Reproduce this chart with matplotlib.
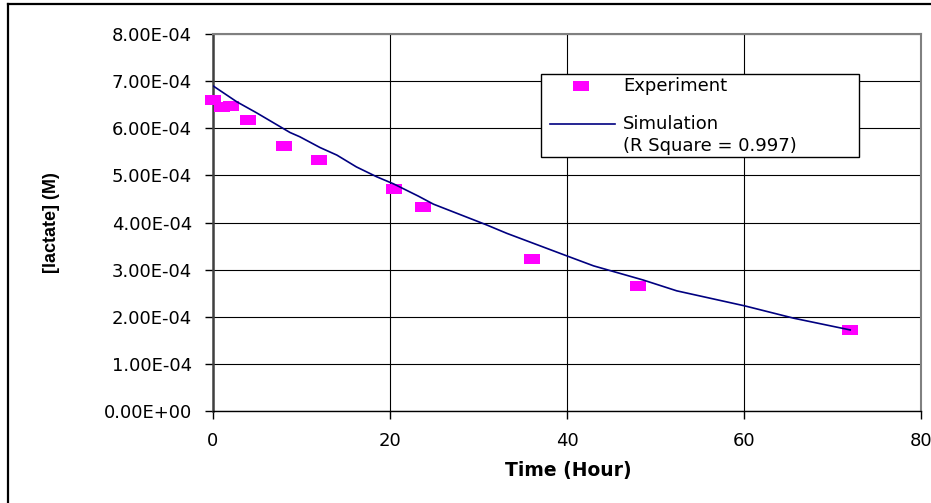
import matplotlib
matplotlib.use('Agg')
import matplotlib.pyplot as plt
from matplotlib.lines import Line2D
from matplotlib.patches import Rectangle
from matplotlib.path import Path
from matplotlib.ticker import FuncFormatter

# Lactate decay: measured points and fitted model
t_exp = [0, 1, 2, 4, 8, 12, 20.5, 23.7, 36, 48, 72]
lac_exp = [6.60e-4, 6.45e-4, 6.48e-4, 6.18e-4, 5.62e-4, 5.32e-4,
           4.72e-4, 4.32e-4, 3.22e-4, 2.66e-4, 1.72e-4]

t_sim = [0, 2.7, 4.9, 8.7, 9.8, 12.1, 14, 16.2, 18.5, 20.4, 23.2, 24.9,
         30.9, 33.2, 40, 43, 48.6, 52.4, 60.1, 65.6, 72]
lac_sim = [6.90e-4, 6.56e-4, 6.33e-4, 5.91e-4, 5.82e-4, 5.59e-4, 5.43e-4,
           5.18e-4, 4.97e-4, 4.82e-4, 4.56e-4, 4.39e-4, 3.95e-4, 3.77e-4,
           3.29e-4, 3.08e-4, 2.78e-4, 2.55e-4, 2.23e-4, 1.97e-4, 1.72e-4]

r_square = 0.997
x_ticks = [0, 20, 40, 60, 80]
y_ticks = [0, 1e-4, 2e-4, 3e-4, 4e-4, 5e-4, 6e-4, 7e-4, 8e-4]

plt.rcParams['font.family'] = ['DejaVu Sans']

W, H = 931, 503
fig = plt.figure(figsize=(W / 100, H / 100), dpi=100)
ax = fig.add_axes([213 / W, 92 / H, 708 / W, 377 / H])

# flat rectangle marker, wider than tall
box = Path([(-1, -0.6), (1, -0.6), (1, 0.6), (-1, 0.6), (-1, -0.6)],
           [Path.MOVETO, Path.LINETO, Path.LINETO, Path.LINETO, Path.CLOSEPOLY])
pink = '#ff00ff'
navy = '#000080'

ax.plot(t_exp, lac_exp, linestyle='none', marker=box, markersize=11,
        color=pink, markeredgewidth=0, zorder=3, clip_on=False)
ax.plot(t_sim, lac_sim, color=navy, linewidth=1.2, zorder=4)

ax.set_xlim(0, 80)
ax.set_ylim(0, 8e-4)
ax.set_xticks(x_ticks)
ax.set_yticks(y_ticks)
ax.yaxis.set_major_formatter(FuncFormatter(lambda v, p: '%.2E' % v))
ax.tick_params(axis='both', direction='out', length=6, width=1,
               labelsize=13, pad=9, color='black')
ax.grid(True, color='black', linewidth=0.8)
ax.set_axisbelow(True)

for side in ['top', 'right']:
    ax.spines[side].set_color('#808080')
    ax.spines[side].set_linewidth(1.5)
ax.spines['left'].set_color('#404040')
ax.spines['left'].set_linewidth(1.8)
ax.spines['bottom'].set_color('black')
ax.spines['bottom'].set_linewidth(1)

ax.set_xlabel('Time (Hour)', fontsize=13.5, fontweight='bold', va='center')
ax.xaxis.set_label_coords(0.5014, -0.158)
ax.set_ylabel('[lactate] (M)', fontsize=13, fontweight='bold', va='center',
              family='Liberation Sans')
ax.yaxis.set_label_coords(-0.228, 0.5)


# legend box drawn by hand, positions in figure pixels
def px(x, y):
    return x / W, 1 - y / H


tf = fig.transFigure
x0, y0 = px(541, 157)
x1, y1 = px(859, 74)
fig.add_artist(Rectangle((x0, y0), x1 - x0, y1 - y0, transform=tf,
                         facecolor='white', edgecolor='black', linewidth=1,
                         zorder=5))
fig.add_artist(Line2D([px(581, 0)[0]], [px(0, 86)[1]], transform=tf,
                      marker=box, markersize=11, color=pink,
                      markeredgewidth=0, linestyle='none', zorder=6))
fig.add_artist(Line2D([px(550, 0)[0], px(615, 0)[0]],
                      [px(0, 124)[1]] * 2, transform=tf, color=navy,
                      linewidth=1.2, zorder=6))
fig.text(*px(623, 86), 'Experiment', fontsize=13, va='center', zorder=6)
fig.text(*px(623, 124), 'Simulation', fontsize=13, va='center', zorder=6)
fig.text(*px(623, 146), '(R Square = %.3f)' % r_square, fontsize=13,
         va='center', zorder=6)

# outer chart-area border
fig.add_artist(Line2D([7.5 / W, 7.5 / W], [0, 1 - 3.5 / H],
                      transform=tf, color='black', linewidth=1.6))
fig.add_artist(Line2D([7.5 / W, 1], [1 - 3.5 / H, 1 - 3.5 / H],
                      transform=tf, color='black', linewidth=1.6))

fig.savefig('out.png', dpi=100)
